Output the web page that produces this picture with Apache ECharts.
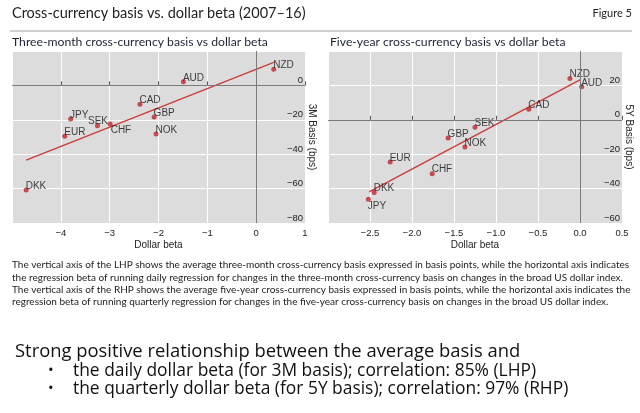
<!DOCTYPE html>
<html style="height: 100%">
<head>
    <meta charset="utf-8">
    <title>Cross-currency basis vs. dollar beta</title>
    <script type="text/javascript" src="https://cdn.jsdelivr.net/npm/echarts@6/dist/echarts.min.js"></script>
</head>
<body style="margin: 0; background: #fff">
<div id="container" style="width: 640px; height: 413px"></div>
<script type="application/javascript">

    // left panel: three-month basis vs daily dollar beta
    var ccyLeft = ['NZD', 'AUD', 'CAD', 'GBP', 'NOK', 'JPY', 'SEK', 'CHF', 'EUR', 'DKK'];
    var betaLeft = [0.36, -1.49, -2.38, -2.09, -2.05, -3.80, -3.25, -2.99, -3.92, -4.71];
    var basisLeft = [9.4, 2.1, -10.9, -18.3, -28.3, -19.6, -23.4, -22.5, -29.6, -60.8];
    var fitLeftX = [-4.71, 0.36];
    var fitLeftY = [-43.4, 13.4];

    // right panel: five-year basis vs quarterly dollar beta
    var ccyRight = ['NZD', 'AUD', 'CAD', 'SEK', 'GBP', 'NOK', 'EUR', 'CHF', 'DKK', 'JPY'];
    var betaRight = [-0.12, 0.02, -0.61, -1.25, -1.57, -1.37, -2.26, -1.76, -2.45, -2.52];
    var basisRight = [24.0, 19.2, 6.2, -4.4, -10.6, -15.8, -24.6, -31.3, -42.3, -46.2];
    var fitRightX = [-2.51, 0.01];
    var fitRightY = [-41.9, 23.5];

    var footnote = [
        'The vertical axis of the LHP shows the average three-month cross-currency basis expressed in basis points, while the horizontal axis indicates',
        'the regression beta of running daily regression for changes in the three-month cross-currency basis on changes in the broad US dollar index.',
        'The vertical axis of the RHP shows the average five-year cross-currency basis expressed in basis points, while the horizontal axis indicates the',
        'regression beta of running quarterly regression for changes in the five-year cross-currency basis on changes in the broad US dollar index.'
    ];
    var bullets = [
        'the daily dollar beta (for 3M basis); correlation: 85% (LHP)',
        'the quarterly dollar beta (for 5Y basis); correlation: 97% (RHP)'
    ];

    var sans = 'Liberation Sans, Arial, sans-serif';
    var humanist = 'Lato, Open Sans, sans-serif';
    var slide = 'Open Sans, sans-serif';

    // labels that do not sit at the upper right of their dot
    var leftOffsets = {SEK: [-12, -4], CHF: [-2, 6]};
    var rightOffsets = {JPY: [-3, 7]};

    function points(ccy, xs, ys, offsets) {
        var out = [];
        for (var i = 0; i < ccy.length; i++) {
            out.push({
                name: ccy[i],
                value: [xs[i], ys[i]],
                label: {offset: offsets[ccy[i]] || [-3, -4]}
            });
        }
        return out;
    }

    function pairs(xs, ys) {
        var out = [];
        for (var i = 0; i < xs.length; i++) out.push([xs[i], ys[i]]);
        return out;
    }

    function minus(v, digits) {
        var s = v.toFixed(digits);
        return s.replace('-', '\u2212');
    }

    function xAxis(grid, min, max, step, digits) {
        return {
            type: 'value', gridIndex: grid, min: min, max: max, interval: step,
            name: 'Dollar beta', nameLocation: 'middle', nameGap: 17,
            nameTextStyle: {fontSize: 10, fontFamily: sans, color: '#222'},
            axisLine: {show: false},
            axisTick: {show: true, inside: true, length: 4, lineStyle: {color: '#555'}},
            axisLabel: {
                showMinLabel: false, margin: 5, fontSize: 9.5, fontFamily: sans, color: '#222',
                formatter: function (v) { return minus(v, digits); }
            },
            splitLine: {show: true, lineStyle: {color: '#fff', width: 1}}
        };
    }

    function yAxis(grid, min, max, title) {
        return {
            type: 'value', gridIndex: grid, position: 'right', min: min, max: max, interval: 20,
            name: title, nameLocation: 'middle', nameGap: 3, nameRotate: -90,
            nameTextStyle: {fontSize: 10, fontFamily: sans, color: '#222', verticalAlign: 'top'},
            axisLine: {show: false},
            axisTick: {show: false},
            axisLabel: {
                inside: true, showMaxLabel: false, margin: 2, verticalAlign: 'bottom',
                fontSize: 9.5, fontFamily: sans, color: '#222',
                formatter: function (v) { return minus(v, 0); }
            },
            splitLine: {show: true, lineStyle: {color: '#fff', width: 1}}
        };
    }

    function scatter(idx, data) {
        return {
            type: 'scatter', xAxisIndex: idx, yAxisIndex: idx, data: data,
            symbolSize: 5, itemStyle: {color: '#c0262d'}, z: 4,
            label: {
                show: true, position: 'right', distance: 0,
                formatter: '{b}', fontSize: 10, fontFamily: sans, color: '#111'
            },
            markLine: {
                silent: true, symbol: 'none', label: {show: false},
                lineStyle: {color: '#7b7b7b', width: 1, type: 'solid'},
                data: [{xAxis: 0}, {yAxis: 0}]
            }
        };
    }

    function fit(idx, xs, ys) {
        return {
            type: 'line', xAxisIndex: idx, yAxisIndex: idx, data: pairs(xs, ys),
            showSymbol: false, silent: true, z: 3,
            lineStyle: {color: '#cc3b36', width: 1.3}
        };
    }

    function text(x, y, str, size, family, color, align) {
        return {
            type: 'text', x: x, y: y, silent: true,
            style: {text: str, fontSize: size, fontFamily: family, fill: color,
                align: align || 'left', verticalAlign: 'middle'}
        };
    }

    var texts = [
        text(12, 13, 'Cross-currency basis vs. dollar beta (2007\u201316)', 14.5, humanist, '#222'),
        text(632, 13, 'Figure 5', 11, humanist, '#222', 'right'),
        {type: 'line', silent: true, shape: {x1: 10, y1: 31, x2: 632, y2: 31}, style: {stroke: '#a0a0a0', lineWidth: 1}},
        text(12, 42.5, 'Three-month cross-currency basis vs dollar beta', 12.2, humanist, '#1c2433'),
        text(330, 42.5, 'Five-year cross-currency basis vs dollar beta', 12.2, humanist, '#1c2433'),
        text(15, 352, 'Strong positive relationship between the average basis and', 18.4, slide, '#111')
    ];
    for (var i = 0; i < footnote.length; i++) {
        texts.push(text(12, 265 + i * 12.4, footnote[i], 10, humanist, '#222'));
    }
    for (var j = 0; j < bullets.length; j++) {
        texts.push(text(48, 371 + j * 17.6, '\u2022', 15, slide, '#111'));
        texts.push(text(73, 371 + j * 17.6, bullets[j], 17.4, slide, '#111'));
    }

    var option = {
        animation: false,
        graphic: texts,
        grid: [
            {left: 12, right: 335, top: 51, bottom: 190, show: true, backgroundColor: '#dcdcdc', borderWidth: 0},
            {left: 328, right: 18, top: 51, bottom: 190, show: true, backgroundColor: '#dcdcdc', borderWidth: 0}
        ],
        xAxis: [xAxis(0, -5, 1, 1, 0), xAxis(1, -3, 0.5, 0.5, 1)],
        yAxis: [yAxis(0, -80, 20, '3M Basis (bps)'), yAxis(1, -60, 40, '5Y Basis (bps)')],
        series: [
            fit(0, fitLeftX, fitLeftY),
            scatter(0, points(ccyLeft, betaLeft, basisLeft, leftOffsets)),
            fit(1, fitRightX, fitRightY),
            scatter(1, points(ccyRight, betaRight, basisRight, rightOffsets))
        ]
    };

    var dom = document.getElementById("container");
    var myChart = echarts.init(dom);
    myChart.setOption(option);
</script>
</body>
</html>
